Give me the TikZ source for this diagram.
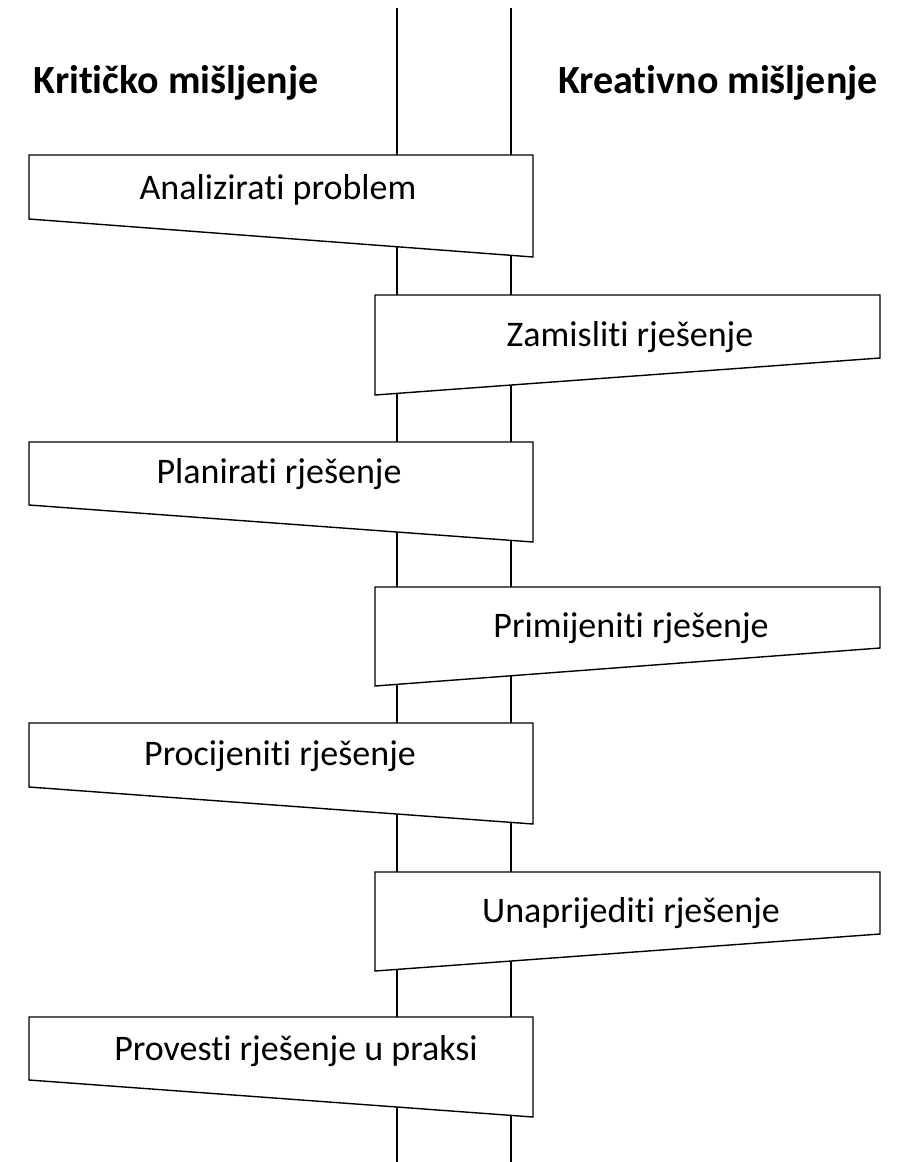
\documentclass[tikz,border=0pt]{standalone}
\usepackage{fontspec}
\setmainfont{Carlito}[Ligatures=CommonOff]
\begin{document}
\begin{tikzpicture}[x=1pt,y=-1pt,
  lane/.style={draw=black,line width=1.3pt},
  stepbox/.style={draw=black,fill=white,line width=1.4pt,line join=miter},
  lbl/.style={font=\fontsize{36}{40}\selectfont,anchor=base,inner sep=0pt},
  head/.style={font=\fontsize{40}{44}\selectfont\bfseries,anchor=base,inner sep=0pt}]
\useasboundingbox (0,0) rectangle (913,1162);
% lanes
\coordinate (l1top) at (397,8);
\coordinate (l1bot) at (397,1162);
\coordinate (l2top) at (511,8);
\coordinate (l2bot) at (511,1162);
\draw[lane] (l1top) -- (l1bot);
\draw[lane] (l2top) -- (l2bot);
% headings
\node[head] (hk) at (176,93) {Kritičko mišljenje};
\node[head] (hc) at (718,93) {Kreativno mišljenje};
% boxes
\draw[stepbox] (29,155) -- (533,155) -- (533,257) -- (29,219) -- cycle;
\node[lbl] (s1) at (278,199) {Analizirati problem};
\draw[stepbox] (375,295) -- (880,295) -- (880,358) -- (375,395) -- cycle;
\node[lbl] (s2) at (630,346) {Zamisliti rješenje};
\draw[stepbox] (29,442) -- (533,442) -- (533,542) -- (29,505) -- cycle;
\node[lbl] (s3) at (279,483) {Planirati rješenje};
\draw[stepbox] (375,587) -- (880,587) -- (880,648) -- (375,686) -- cycle;
\node[lbl] (s4) at (631,637) {Primijeniti rješenje};
\draw[stepbox] (29,723) -- (533,723) -- (533,824) -- (29,787) -- cycle;
\node[lbl] (s5) at (280,765) {Procijeniti rješenje};
\draw[stepbox] (375,872) -- (880,872) -- (880,934) -- (375,971) -- cycle;
\node[lbl] (s6) at (631,922) {Unaprijediti rješenje};
\draw[stepbox] (29,1017) -- (533,1017) -- (533,1117) -- (29,1080) -- cycle;
\node[lbl] (s7) at (296,1060) {Provesti rješenje u praksi};
\end{tikzpicture}
\end{document}
